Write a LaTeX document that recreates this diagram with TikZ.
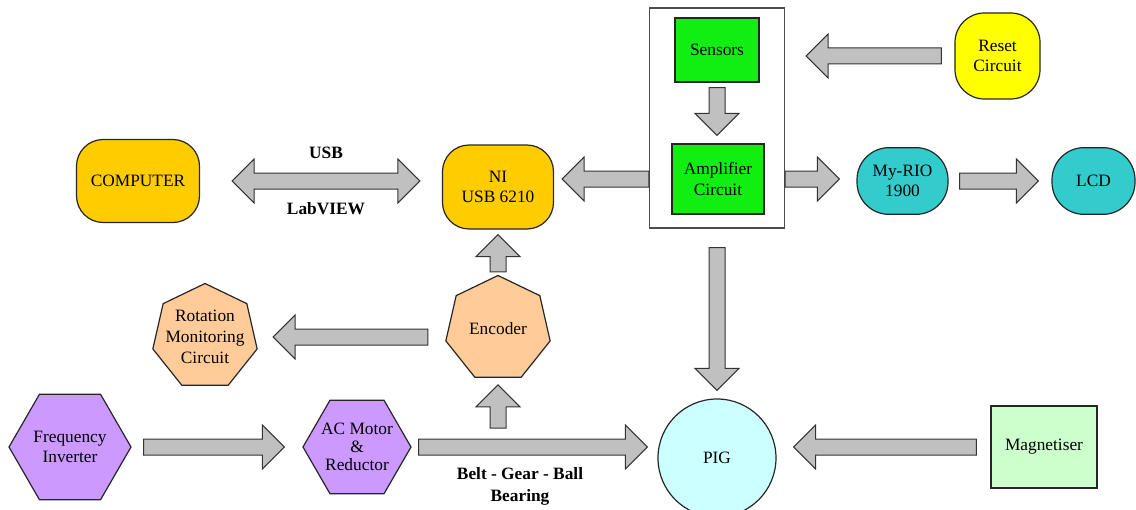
\documentclass[tikz,border=0pt]{standalone}
\usepackage{fontspec}
\setmainfont{Liberation Serif}
\usetikzlibrary{calc,shapes.geometric}

\definecolor{pcgold}{HTML}{FFCC00}
\definecolor{resetyellow}{HTML}{FFFF00}
\definecolor{sensgreen}{HTML}{11EE11}
\definecolor{rioteal}{HTML}{33CCCC}
\definecolor{peach}{HTML}{FFCC99}
\definecolor{lavender}{HTML}{CC99FF}
\definecolor{pigcyan}{HTML}{CCFFFF}
\definecolor{maggreen}{HTML}{CCFFCC}
\definecolor{arrowgray}{HTML}{C0C0C0}

% block arrow sizes
\newcommand{\shaftw}{6pt}
\newcommand{\headw}{16.5pt}
\newcommand{\headl}{16.5pt}

% one-headed block arrow from #1 to #2
\newcommand{\blockarrow}[2]{%
  \draw[blockline] let \p1=(#1), \p2=(#2), \p3=($(\p2)!\headl!(\p1)$) in
    ($(\p1)!\shaftw!90:(\p2)$) -- ($(\p3)!\shaftw!90:(\p2)$) -- ($(\p3)!\headw!90:(\p2)$)
    -- (\p2) -- ($(\p3)!\headw!-90:(\p2)$) -- ($(\p3)!\shaftw!-90:(\p2)$)
    -- ($(\p1)!\shaftw!-90:(\p2)$) -- cycle;}

% two-headed block arrow
\newcommand{\dblockarrow}[2]{%
  \draw[blockline] let \p1=(#1), \p2=(#2), \p3=($(\p2)!\headl!(\p1)$), \p4=($(\p1)!\headl!(\p2)$) in
    (\p1) -- ($(\p4)!\headw!90:(\p2)$) -- ($(\p4)!\shaftw!90:(\p2)$)
    -- ($(\p3)!\shaftw!90:(\p2)$) -- ($(\p3)!\headw!90:(\p2)$) -- (\p2)
    -- ($(\p3)!\headw!-90:(\p2)$) -- ($(\p3)!\shaftw!-90:(\p2)$)
    -- ($(\p4)!\shaftw!-90:(\p2)$) -- ($(\p4)!\headw!-90:(\p2)$) -- cycle;}

\begin{document}
\begin{tikzpicture}[
        x=0.75pt, y=-0.75pt,
        every node/.style={font=\fontsize{13}{15.5}\selectfont, align=center},
        blockline/.style={draw=black!80, fill=arrowgray, line width=0.75pt},
        outline/.style={draw=black!85, line width=0.9pt},
        roundbox/.style={outline, rounded corners=20pt, inner sep=2pt},
        pcbox/.style={roundbox, fill=pcgold},
        resetbox/.style={roundbox, rounded corners=22pt, fill=resetyellow, minimum width=63.75pt, minimum height=64.5pt},
        riobox/.style={outline, rounded corners=24pt, fill=rioteal, minimum height=50pt},
        greenbox/.style={outline, fill=sensgreen},
        heptnode/.style={outline, fill=peach, regular polygon, regular polygon sides=7, minimum size=80.25pt, inner sep=0pt},
        hexnode/.style={outline, fill=lavender, regular polygon, regular polygon sides=6, inner sep=0pt},
        lbl/.style={font=\bfseries\fontsize{13}{16.5}\selectfont}
    ]
        \useasboundingbox (0,0) rectangle (1136,510);

        % top row
        \node[pcbox, minimum width=92.25pt, minimum height=62.25pt] (comp) at (138,181) {COMPUTER};
        \node[pcbox, minimum width=83.25pt, minimum height=63pt] (ni) at (498,187) {NI\\USB 6210};
        \node[outline, draw=black!70, fill=white, minimum width=101.25pt, minimum height=165pt] (unit) at (717,118) {};
        \node[greenbox, minimum width=63pt, minimum height=48pt] (sens) at (717,50) {Sensors};
        \node[greenbox, minimum width=69pt, minimum height=52.5pt] (amp) at (718,179) {Amplifier\\Circuit};
        \node[resetbox] (reset) at (997.5,56) {Reset\\Circuit};
        \node[riobox, minimum width=68.25pt] (myrio) at (902.5,181) {My-RIO\\1900};
        \node[riobox, minimum width=62.25pt] (lcd) at (1093.5,181) {LCD};

        % middle and bottom rows
        \node[heptnode, label=center:{Encoder}] (enc) at (498,329) {};
        \node[heptnode, label=center:{Rotation\\Monitoring\\Circuit}] (rot) at (205,337) {};
        \node[hexnode, minimum size=91.5pt, label=center:{Frequency\\Inverter}] (freq) at (70,447) {};
        \node[hexnode, minimum size=81pt,
              label={[font=\fontsize{13}{13.5}\selectfont]center:{AC Motor\\\&\\Reductor}}] (acm) at (357,447) {};
        \node[outline, circle, fill=pigcyan, minimum size=88.5pt] (pig) at (717,458) {PIG};
        \node[outline, fill=maggreen, minimum width=79.5pt, minimum height=61.5pt] (mag) at (1044,447) {Magnetiser};

        % block arrows
        \dblockarrow{$(comp.east)+(32,0)$}{$(ni.west |- comp)+(-22,0)$}
        \node[lbl] (usb) at (326,153) {USB};
        \node[lbl] (labview) at (326,209) {LabVIEW};

        \blockarrow{unit.west |- amp}{$(ni.east |- amp)+(8,0)$}
        \blockarrow{unit.east |- amp}{$(myrio.west |- amp)+(-17,0)$}
        \blockarrow{$(myrio.east)+(11,0)$}{$(lcd.west)+(-13,0)$}
        \blockarrow{$(reset.west)+(-13,0)$}{$(unit.east |- reset)+(21,0)$}
        \blockarrow{$(sens.south)+(0,5)$}{$(amp.north -| sens)+(0,-8)$}
        \blockarrow{$(unit.south -| pig)+(0,19)$}{$(pig.north)+(0,-8)$}
        \blockarrow{$(enc.north)+(0,-3)$}{$(ni.south -| enc)+(0,5)$}
        \blockarrow{$(enc.west |- rot)+(-20,0)$}{$(rot.east)+(18,0)$}
        \blockarrow{$(freq.east)+(12,0)$}{$(acm.west)+(-18,0)$}
        \blockarrow{$(acm.east)+(7,0)$}{$(pig.west |- acm)+(-10,0)$}
        \coordinate (tap) at ($(enc |- acm)+(0,-19)$);
        \blockarrow{tap}{$(enc.south)+(0,7)$}
        \blockarrow{$(mag.west)+(-14,0)$}{$(pig.east |- mag)+(17,0)$}

        \node[lbl] (belt) at (520,486) {Belt - Gear - Ball\\Bearing};
\end{tikzpicture}
\end{document}
